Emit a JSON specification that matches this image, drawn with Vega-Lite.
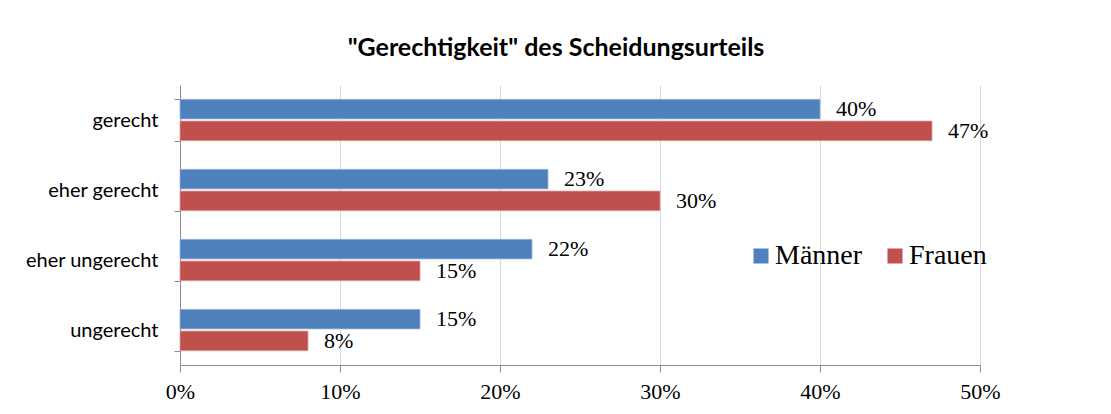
{
  "$schema": "https://vega.github.io/schema/vega-lite/v6.json",
  "width": 800,
  "height": 280,
  "autosize": {"type": "none"},
  "padding": {"left": 180, "top": 85, "right": 131, "bottom": 49},
  "background": "white",
  "title": {
    "text": "\"Gerechtigkeit\" des Scheidungsurteils",
    "font": "Lato",
    "fontSize": 25,
    "fontWeight": "bold",
    "color": "black",
    "offset": 14,
    "dx": -24,
    "anchor": "middle"
  },
  "data": {
    "values": [
      {"antwort": "gerecht", "geschlecht": "Männer", "anteil": 0.40},
      {"antwort": "gerecht", "geschlecht": "Frauen", "anteil": 0.47},
      {"antwort": "eher gerecht", "geschlecht": "Männer", "anteil": 0.23},
      {"antwort": "eher gerecht", "geschlecht": "Frauen", "anteil": 0.30},
      {"antwort": "eher ungerecht", "geschlecht": "Männer", "anteil": 0.22},
      {"antwort": "eher ungerecht", "geschlecht": "Frauen", "anteil": 0.15},
      {"antwort": "ungerecht", "geschlecht": "Männer", "anteil": 0.15},
      {"antwort": "ungerecht", "geschlecht": "Frauen", "anteil": 0.08}
    ]
  },
  "encoding": {
    "y": {
      "field": "antwort",
      "type": "nominal",
      "sort": ["gerecht", "eher gerecht", "eher ungerecht", "ungerecht"],
      "scale": {"paddingInner": 0.41, "paddingOuter": 0.205},
      "axis": {
        "title": null,
        "grid": false,
        "tickBand": "extent",
        "domainColor": "#8c8c8c",
        "tickColor": "#8c8c8c",
        "tickSize": 6,
        "labelFont": "Lato",
        "labelFontSize": 20,
        "labelColor": "black",
        "labelPadding": 16
      }
    },
    "yOffset": {
      "field": "geschlecht",
      "type": "nominal",
      "sort": ["Männer", "Frauen"],
      "scale": {"paddingInner": 0.1}
    },
    "x": {
      "field": "anteil",
      "type": "quantitative",
      "scale": {"domain": [0, 0.5]},
      "axis": {
        "title": null,
        "grid": true,
        "gridColor": "#d9d9d9",
        "values": [0, 0.1, 0.2, 0.3, 0.4, 0.5],
        "format": ".0%",
        "labelFlush": false,
        "domainColor": "#8c8c8c",
        "tickColor": "#8c8c8c",
        "tickSize": 7,
        "labelFont": "Liberation Serif",
        "labelFontSize": 22,
        "labelColor": "black",
        "labelPadding": 9
      }
    }
  },
  "layer": [
    {
      "mark": {"type": "bar", "strokeWidth": 0.8},
      "encoding": {
        "color": {
          "field": "geschlecht",
          "type": "nominal",
          "sort": ["Männer", "Frauen"],
          "scale": {"domain": ["Männer", "Frauen"], "range": ["#4F81BD", "#C0504D"]},
          "legend": {
            "title": null,
            "orient": "none",
            "legendX": 567,
            "legendY": 157,
            "direction": "horizontal",
            "symbolType": "square",
            "symbolSize": 225,
            "symbolStrokeWidth": 0,
            "labelFont": "Liberation Serif",
            "labelFontSize": 28,
            "labelColor": "black",
            "labelOffset": 0,
            "columnPadding": 18
          }
        },
        "stroke": {
          "field": "geschlecht",
          "type": "nominal",
          "scale": {"domain": ["Männer", "Frauen"], "range": ["#9ab5d9", "#dc9a98"]},
          "legend": null
        }
      }
    },
    {
      "mark": {
        "type": "text",
        "align": "left",
        "baseline": "middle",
        "dx": 16,
        "font": "Liberation Serif",
        "fontSize": 22,
        "color": "black"
      },
      "encoding": {
        "text": {"field": "anteil", "type": "quantitative", "format": ".0%"}
      }
    }
  ],
  "config": {
    "view": {"stroke": null}
  }
}
